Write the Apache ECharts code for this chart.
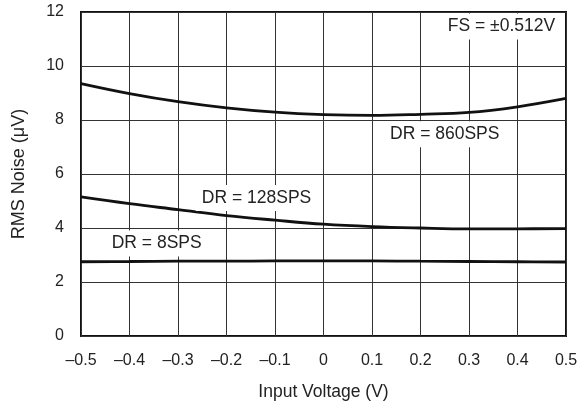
<!DOCTYPE html>
<html>
<head>
<meta charset="utf-8">
<script src="https://cdn.jsdelivr.net/npm/echarts@6/dist/echarts.min.js"></script>
<style>
  html, body { margin: 0; padding: 0; background: #fff; }
  #chart { width: 581px; height: 406px; }
</style>
</head>
<body>
<div id="chart"></div>
<script>
// Input voltage sample points (V)
const inputVoltage = [-0.5, -0.4, -0.3, -0.2, -0.1, 0, 0.1, 0.2, 0.3, 0.4, 0.5];

// RMS noise (µV) per data rate
const noise860 = [9.35, 8.98, 8.68, 8.45, 8.29, 8.20, 8.17, 8.21, 8.28, 8.49, 8.80];
const noise128 = [5.15, 4.90, 4.68, 4.46, 4.29, 4.14, 4.05, 4.00, 3.97, 3.97, 3.98];
const noise8   = [2.75, 2.76, 2.77, 2.77, 2.78, 2.78, 2.78, 2.77, 2.76, 2.75, 2.74];

// Curve annotations: [text, x, y] in data units
const annotations = [
  ['FS = ±0.512V', 0.367, 11.46],
  ['DR = 860SPS', 0.25, 7.47],
  ['DR = 128SPS', -0.138, 5.11],
  ['DR = 8SPS', -0.344, 3.43]
];

const pair = (ys) => inputVoltage.map((x, i) => [x, ys[i]]);
const font = '"Liberation Sans", Arial, Helvetica, sans-serif';

const chart = echarts.init(document.getElementById('chart'), null, { renderer: 'canvas' });

const lineSeries = (data) => ({
  type: 'line',
  data: pair(data),
  smooth: 0.4,
  symbol: 'none',
  z: 3,
  lineStyle: { color: '#111', width: 2.8 }
});

chart.setOption({
  animation: false,
  backgroundColor: '#fff',
  grid: {
    left: 81, right: 15, top: 12, bottom: 65,
    show: true, borderColor: '#111', borderWidth: 2, backgroundColor: 'transparent'
  },
  xAxis: {
    type: 'value', min: -0.5, max: 0.5, interval: 0.1,
    name: 'Input Voltage (V)', nameLocation: 'middle', nameGap: 47,
    nameTextStyle: { color: '#222', fontSize: 17.5, fontFamily: font },
    axisLine: { show: false },
    axisTick: { show: false },
    axisLabel: {
      color: '#222', fontSize: 16, fontFamily: font, margin: 17,
      formatter: (v) => {
        const r = Math.round(v * 10) / 10;
        if (r === 0) return '0';
        return r < 0 ? '–' + Math.abs(r).toFixed(1) : r.toFixed(1);
      }
    },
    splitLine: { show: true, lineStyle: { color: '#333', width: 1 } }
  },
  yAxis: {
    type: 'value', min: 0, max: 12, interval: 2,
    name: 'RMS Noise (μV)', nameLocation: 'middle', nameGap: 53, nameRotate: 90,
    nameTextStyle: { color: '#222', fontSize: 18, fontFamily: font },
    axisLine: { show: false },
    axisTick: { show: false },
    axisLabel: { color: '#222', fontSize: 16, fontFamily: font, margin: 17, padding: [3, 0, 0, 0] },
    splitLine: { show: true, lineStyle: { color: '#333', width: 1 } }
  },
  series: [lineSeries(noise860), lineSeries(noise128), lineSeries(noise8)]
});

// Place the text annotations with white boxes over the grid lines
chart.setOption({
  graphic: annotations.map(([text, x, y]) => {
    const p = chart.convertToPixel({ gridIndex: 0 }, [x, y]);
    return {
      type: 'text',
      x: p[0], y: p[1], z: 10,
      style: {
        text: text,
        fill: '#222',
        font: '17.5px ' + font,
        align: 'center',
        verticalAlign: 'middle',
        backgroundColor: '#fff',
        padding: [4, 6]
      }
    };
  })
});
</script>
</body>
</html>
